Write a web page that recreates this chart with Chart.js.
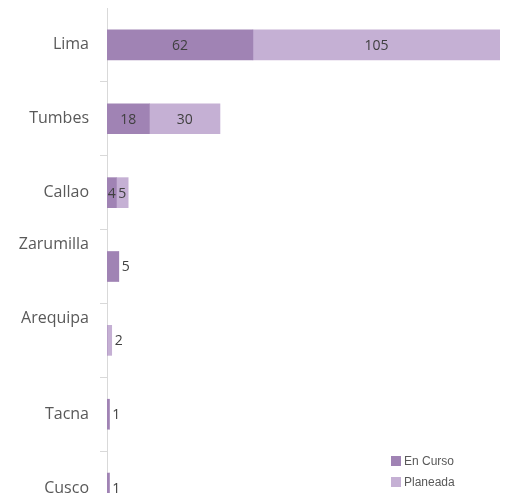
<!DOCTYPE html>
<html>
<head>
<meta charset="utf-8">
<script src="https://cdn.jsdelivr.net/npm/chart.js@4"></script>
<style>
  html, body { margin: 0; padding: 0; background: #fff; overflow: hidden; }
  #wrap { position: relative; width: 508px; height: 493px; overflow: hidden; }
  #legend { position: absolute; left: 391px; top: 453px; font: 12px "Liberation Sans", Arial, sans-serif; color: #595959; }
  #legend div { height: 21px; line-height: 16px; white-space: nowrap; }
  #legend span { display: inline-block; width: 10px; height: 10px; margin-right: 3px; vertical-align: -1px; }
</style>
</head>
<body>
<div id="wrap">
  <canvas id="chart" width="508" height="525"></canvas>
  <div id="legend"></div>
</div>
<script>
// ── Data ─────────────────────────────────
const categories = ['Lima', 'Tumbes', 'Callao', ['Zarumilla', '', ''], ['Arequipa', '', ''], 'Tacna', 'Cusco'];
const enCurso    = [62, 18, 4, 5, 0, 1, 1];
const planeada   = [105, 30, 5, 0, 2, 0, 0];
const seriesNames  = ['En Curso', 'Planeada'];
const seriesColors = ['#A083B4', '#C5B0D4'];

// ── Value labels ─────────────────────────
const valueLabels = {
    id: 'valueLabels',
    afterDatasetsDraw(chart) {
        const ctx = chart.ctx;
        ctx.save();
        ctx.font = '14px "Open Sans", sans-serif';
        ctx.fillStyle = '#404040';
        ctx.textBaseline = 'middle';
        chart.data.datasets.forEach((ds, di) => {
            const meta = chart.getDatasetMeta(di);
            meta.data.forEach((bar, i) => {
                const v = ds.data[i];
                if (!v) return;
                const p = bar.getProps(['x', 'y', 'base'], true);
                const alone = chart.data.datasets.every((o, oi) => oi === di || !o.data[i]);
                if (alone) {
                    ctx.textAlign = 'left';
                    ctx.fillText(String(v), Math.max(p.x, p.base) + 3, p.y + 1);
                } else {
                    ctx.textAlign = 'center';
                    ctx.fillText(String(v), (p.x + p.base) / 2, p.y + 1);
                }
            });
        });
        ctx.restore();
    }
};

// ── Chart ────────────────────────────────
const chart = new Chart(document.getElementById('chart'), {
    type: 'bar',
    data: {
        labels: categories,
        datasets: [
            { label: seriesNames[0], data: enCurso,  backgroundColor: seriesColors[0], barThickness: 30 },
            { label: seriesNames[1], data: planeada, backgroundColor: seriesColors[1], barThickness: 30 }
        ]
    },
    options: {
        indexAxis: 'y',
        responsive: false,
        animation: false,
        layout: { padding: { top: 8, right: 8, left: 0, bottom: 0 } },
        plugins: { legend: { display: false }, tooltip: { enabled: false } },
        scales: {
            x: { stacked: true, display: false, min: 0, max: 167 },
            y: {
                stacked: true,
                afterFit: s => { s.width = 107; s.paddingTop = 0; s.paddingBottom = 0; },
                border: { color: '#D9D9D9' },
                grid: {
                    drawOnChartArea: false,
                    tickLength: 7,
                    color: c => c.index === 0 ? 'rgba(0,0,0,0)' : '#D9D9D9'
                },
                ticks: {
                    padding: 11,
                    color: '#595959',
                    font: { family: '"Open Sans", sans-serif', size: 16, lineHeight: 1.4 }
                }
            }
        }
    },
    plugins: [valueLabels]
});

// ── Legend ───────────────────────────────
document.getElementById('legend').innerHTML = seriesNames
    .map((n, i) => `<div><span style="background:${seriesColors[i]}"></span>${n}</div>`)
    .join('');
</script>
</body>
</html>
